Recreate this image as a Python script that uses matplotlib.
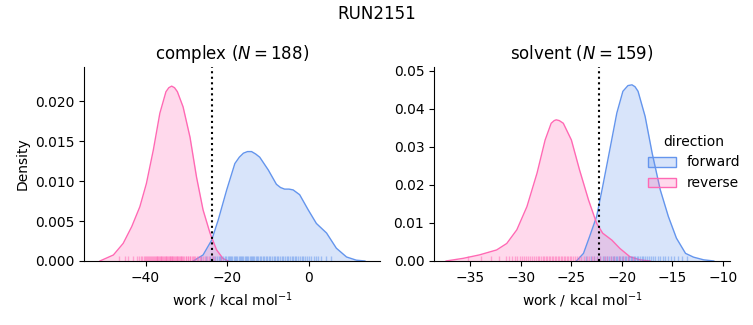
import matplotlib
matplotlib.use("Agg")
import matplotlib.pyplot as plt
from matplotlib.patches import Patch

# density curves (work in kcal/mol, density)
complex_fwd_x = [-28.3, -25.9, -23.8, -22.2, -20.1, -18.1, -17.0, -16.0, -15.0, -14.0, -13.0, -12.0,
                 -9.9, -7.9, -6.9, -5.9, -4.8, -3.8, -2.2, -0.1, 1.9, 4.4, 6.8, 9.3, 11.7, 13.8]
complex_fwd_y = [0.0, 0.00075, 0.0026, 0.0051, 0.0089, 0.0122, 0.0130, 0.0135, 0.0137, 0.0137, 0.0134, 0.0130,
                 0.0114, 0.0096, 0.0092, 0.0090, 0.0090, 0.0089, 0.0083, 0.0064, 0.0047, 0.0035, 0.0016,
                 0.0005, 0.0001, 0.0]
complex_rev_x = [-51.2, -47.9, -45.5, -43.4, -41.4, -39.8, -38.1, -36.5, -35.0, -34.3, -33.6,
                 -32.9, -32.2, -30.8, -29.1, -27.5, -25.9, -24.2, -22.6, -21.0, -19.7]
complex_rev_y = [0.0, 0.00075, 0.0022, 0.0043, 0.0068, 0.0097, 0.0139, 0.0185, 0.0212, 0.0217, 0.0219,
                 0.0217, 0.0212, 0.0193, 0.0155, 0.0105, 0.0064, 0.0035, 0.0014, 0.0003, 0.0]

solvent_fwd_x = [-24.5, -23.8, -23.2, -22.5, -21.9, -21.2, -20.5, -19.9, -19.4, -19.0, -18.7, -18.4,
                 -17.7, -17.0, -16.2, -15.4, -14.6, -13.7, -12.9, -11.9, -10.9]
solvent_fwd_y = [0.0, 0.0020, 0.0064, 0.0117, 0.0196, 0.0292, 0.0389, 0.0446, 0.0461, 0.0463, 0.0458, 0.0446,
                 0.0380, 0.0283, 0.0187, 0.0117, 0.0060, 0.0020, 0.0010, 0.0003, 0.0]
solvent_rev_x = [-37.4, -35.7, -34.1, -32.4, -31.4, -30.4, -29.4, -28.4, -27.6, -27.0, -26.7,
                 -26.5, -26.2, -25.8, -25.0, -24.2, -23.3, -22.5, -21.9, -21.0, -20.2, -19.2, -18.2, -17.2]
solvent_rev_y = [0.0, 0.0007, 0.0016, 0.0029, 0.0046, 0.0082, 0.0143, 0.0231, 0.0318, 0.0362, 0.0369,
                 0.0371, 0.0369, 0.0362, 0.0318, 0.0240, 0.0160, 0.0099, 0.0073, 0.0055, 0.0033, 0.0011,
                 0.0003, 0.0]

# individual work values (rug), estimated
complex_fwd_rug = [-26.5, -25.2, -24.3, -23.5, -23.0, -22.6, -22.1, -21.8, -21.4, -21.0, -20.6,
                   -20.3, -19.9, -19.6, -19.3, -19.0, -18.7, -18.4, -18.1, -17.8, -17.5, -17.2,
                   -16.9, -16.6, -16.3, -16.0, -15.7, -15.4, -15.1, -14.8, -14.5, -14.2, -13.9,
                   -13.6, -13.3, -13.0, -12.6, -12.3, -11.9, -11.6, -11.2, -10.9, -10.5, -10.2,
                   -9.8, -9.4, -9.0, -8.6, -8.2, -7.8, -7.4, -7.0, -6.6, -6.2, -5.8, -5.4,
                   -5.0, -4.6, -4.2, -3.8, -3.4, -3.0, -2.6, -2.2, -1.7, -1.3, -0.8, -0.4,
                   0.1, 0.6, 1.2, 1.8, 2.4, 3.0, 4.3, 5.5]
complex_rev_rug = [-46.5, -45.0, -44.2, -43.0, -42.1, -41.5, -41.1, -40.8, -40.5, -40.2, -39.9,
                   -39.6, -39.3, -39.1, -38.9, -38.7, -38.4, -38.2, -38.0, -37.8, -37.5, -37.3,
                   -37.1, -36.9, -36.7, -36.5, -36.3, -36.1, -35.9, -35.7, -35.5, -35.3, -35.1,
                   -34.9, -34.7, -34.5, -34.3, -34.1, -33.9, -33.8, -33.6, -33.4, -33.2, -33.0,
                   -32.8, -32.6, -32.4, -32.2, -32.0, -31.8, -31.6, -31.4, -31.2, -31.0, -30.7,
                   -30.5, -30.2, -30.0, -29.7, -29.5, -29.2, -29.0, -28.7, -28.4, -28.1, -27.8,
                   -27.4, -27.1, -26.7, -26.3, -25.8, -25.4, -24.9, -24.5, -23.8, -23.2, -21.5]
solvent_fwd_rug = [-23.6, -23.1, -22.8, -22.5, -22.2, -21.9, -21.7, -21.5, -21.3, -21.1, -20.9,
                   -20.8, -20.6, -20.5, -20.3, -20.2, -20.0, -19.9, -19.7, -19.6, -19.4, -19.3,
                   -19.1, -19.0, -18.8, -18.7, -18.5, -18.4, -18.2, -18.0, -17.9, -17.7, -17.5,
                   -17.3, -17.1, -16.9, -16.7, -16.4, -16.2, -15.9, -15.7, -15.4, -15.1, -14.8,
                   -14.4, -14.0, -13.6]
solvent_rev_rug = [-35.2, -33.9, -33.0, -32.2, -31.5, -31.2, -30.9, -30.6, -30.4, -30.1, -29.9,
                   -29.7, -29.5, -29.3, -29.1, -28.9, -28.7, -28.5, -28.3, -28.2, -28.0, -27.8,
                   -27.7, -27.5, -27.4, -27.2, -27.1, -26.9, -26.8, -26.6, -26.5, -26.3, -26.2,
                   -26.0, -25.9, -25.7, -25.6, -25.4, -25.3, -25.1, -25.0, -24.8, -24.6, -24.4,
                   -24.2, -24.0, -23.8, -23.5, -23.3, -23.0, -22.8, -22.5, -22.2, -21.8, -21.5,
                   -21.1, -20.8, -20.3, -19.9, -19.4, -18.9]

titles = ["complex ($N = 188$)", "solvent ($N = 159$)"]
free_energy = [-23.66, -22.27]
xlims = [(-55.1, 17.5), (-38.6, -9.3)]
ylims = [(0, 0.0243), (0, 0.051)]

FWD = "cornflowerblue"
REV = "hotpink"

fig = plt.figure(figsize=(7.53, 3.25), dpi=100)
axes = [fig.add_axes([0.1116, 0.197, 0.393, 0.597]),
        fig.add_axes([0.5764, 0.197, 0.393, 0.597])]

curves = [
    ((complex_fwd_x, complex_fwd_y), (complex_rev_x, complex_rev_y), complex_fwd_rug, complex_rev_rug),
    ((solvent_fwd_x, solvent_fwd_y), (solvent_rev_x, solvent_rev_y), solvent_fwd_rug, solvent_rev_rug),
]

for i, ax in enumerate(axes):
    fwd, rev, fwd_rug, rev_rug = curves[i]
    for (x, y), c in ((fwd, FWD), (rev, REV)):
        ax.fill_between(x, y, color=c, alpha=0.25, linewidth=0)
        ax.plot(x, y, color=c, lw=1)
    trans = ax.get_xaxis_transform()
    ax.vlines(fwd_rug, 0, 0.025, transform=trans, color=FWD, alpha=0.5, lw=1)
    ax.vlines(rev_rug, 0, 0.025, transform=trans, color=REV, alpha=0.5, lw=1)
    ax.axvline(free_energy[i], color="black", ls=":", lw=1.5)
    ax.set_xlim(*xlims[i])
    ax.set_ylim(*ylims[i])
    ax.set_title(titles[i])
    ax.set_xlabel("work / kcal mol$^{-1}$")
    ax.spines["top"].set_visible(False)
    ax.spines["right"].set_visible(False)

axes[0].set_ylabel("Density")

handles = [Patch(facecolor=(100/255, 149/255, 237/255, 0.25), edgecolor=FWD),
           Patch(facecolor=(1, 105/255, 180/255, 0.25), edgecolor=REV)]
fig.legend(handles, ["forward", "reverse"], title="direction", frameon=False,
           loc="center right", bbox_to_anchor=(1.0, 0.5))

fig.suptitle("RUN2151", y=0.985)
fig.savefig("out.png", dpi=100)
